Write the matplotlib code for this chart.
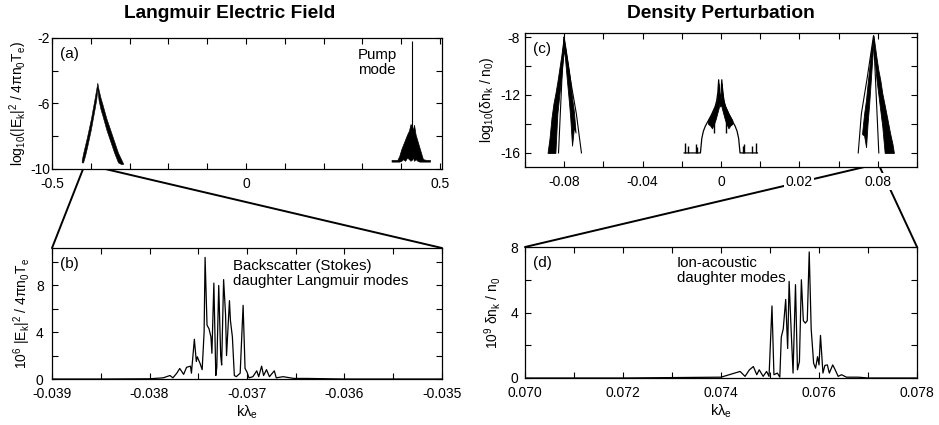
import numpy as np
import matplotlib
matplotlib.use("Agg")
import matplotlib.pyplot as plt
from matplotlib.patches import ConnectionPatch
from matplotlib.ticker import MultipleLocator, FixedLocator

plt.rcParams["font.family"] = ["Liberation Sans", "DejaVu Sans"]
plt.rcParams["mathtext.default"] = "regular"
plt.rcParams["axes.unicode_minus"] = False

# (a) Langmuir spectrum, log scale: dense band drawn as lower/upper envelope
a_left_k = [-0.4235, -0.4200, -0.4150, -0.4100, -0.4050, -0.4000, -0.3950, -0.3900, -0.3860, -0.3832,
            -0.3800, -0.3750, -0.3700, -0.3600, -0.3500, -0.3400, -0.3300, -0.3220, -0.3170]
a_left_hi = [-9.45, -9.05, -8.55, -8.05, -7.50, -6.95, -6.30, -5.65, -5.10, -4.73,
             -5.15, -5.65, -6.05, -6.90, -7.60, -8.30, -9.00, -9.40, -9.65]
a_left_lo = [-9.60, -9.60, -9.20, -8.70, -8.15, -7.60, -6.95, -6.30, -5.75, -5.10,
             -5.80, -6.35, -6.75, -7.60, -8.30, -9.00, -9.60, -9.70, -9.70]
a_right_k = [0.3750, 0.3900, 0.3950, 0.4000, 0.4050, 0.4100, 0.4150, 0.4200, 0.4240,
             0.4300, 0.4330, 0.4370, 0.4420, 0.4470, 0.4520, 0.4560, 0.4650, 0.4740]
a_right_hi = [-9.45, -9.45, -9.20, -8.80, -8.50, -8.20, -7.90, -7.65, -7.25,
              -7.60, -7.30, -7.90, -8.30, -8.70, -9.10, -9.40, -9.45, -9.45]
a_right_lo = [-9.55, -9.55, -9.55, -9.50, -9.40, -9.50, -9.30, -9.40, -9.50,
              -9.30, -9.50, -9.40, -9.50, -9.55, -9.55, -9.55, -9.55, -9.55]
pump_k = 0.4270
pump_top = -2.2
pump_base = -9.45
a_zoom = [-0.4200, -0.3630]

# (b) zoom on backscatter Langmuir modes (x1e6)
b_k = [-0.03900, -0.03850, -0.03800, -0.03786, -0.03779, -0.03776, -0.03772, -0.03769, -0.03765, -0.03762,
       -0.03758, -0.03757, -0.03754, -0.03752, -0.03751, -0.03748, -0.03746, -0.03744, -0.03743, -0.03741,
       -0.03739, -0.03737, -0.03736, -0.03734, -0.03732, -0.03731, -0.03729, -0.03727, -0.03726, -0.03724,
       -0.03722, -0.03721, -0.03718, -0.03717, -0.03715, -0.03713, -0.03711, -0.03707, -0.03704, -0.03702,
       -0.03700, -0.03698, -0.03694, -0.03690, -0.03688, -0.03685, -0.03683, -0.03680, -0.03677, -0.03672,
       -0.03670, -0.03663, -0.03652, -0.03639, -0.03600, -0.03500]
b_val = [0.0, 0.0, 0.02, 0.1, 0.3, 0.1, 0.5, 0.9, 0.4, 1.0,
         1.1, 0.5, 3.4, 1.5, 1.9, 1.3, 0.8, 4.0, 10.4, 4.6,
         4.3, 3.6, 2.2, 8.2, 0.3, 1.0, 8.0, 2.0, 1.2, 8.5,
         5.5, 2.0, 6.7, 5.0, 3.6, 0.3, 0.2, 0.5, 6.3, 0.9,
         0.6, 0.1, 0.2, 0.7, 0.2, 1.1, 0.3, 0.8, 0.2, 0.7,
         0.1, 0.2, 0.05, 0.05, 0.0, 0.0]

# (c) density spectrum, log scale
c_left_k = [-0.0885, -0.0875, -0.0865, -0.0855, -0.0845, -0.0835, -0.0825, -0.0815, -0.0808,
            -0.0802, -0.0795, -0.0786, -0.0775, -0.0769, -0.0760, -0.0750, -0.0742]
c_left_hi = [-16.0, -15.0, -13.6, -12.6, -11.9, -11.1, -10.2, -9.3, -8.6,
             -8.0, -8.6, -9.4, -10.4, -11.0, -12.2, -13.2, -14.6]
c_left_lo = [-16.0, -16.0, -16.0, -16.0, -16.0, -13.3, -12.0, -10.8, -9.8,
             -8.8, -9.6, -11.0, -12.6, -13.6, -15.5, -14.2, -14.6]
c_left_edge_k = [-0.0829, -0.0802, -0.0770, -0.0738, -0.0712]
c_left_edge_v = [-16.0, -8.0, -10.8, -13.3, -16.0]

c_right_k = [0.0720, 0.0730, 0.0740, 0.0748, 0.0756, 0.0764, 0.0771, 0.0778, 0.0785,
             0.0793, 0.0803, 0.0813, 0.0823, 0.0835, 0.0848, 0.0862, 0.0875, 0.0882]
c_right_hi = [-14.6, -13.3, -12.3, -11.2, -10.2, -9.1, -8.5, -7.9, -8.6,
              -9.4, -10.3, -11.0, -11.9, -12.7, -13.6, -14.6, -15.4, -16.0]
c_right_lo = [-14.7, -14.8, -15.6, -13.9, -12.6, -11.0, -9.6, -8.3, -9.8,
              -10.9, -12.0, -13.1, -14.2, -16.0, -16.0, -16.0, -16.0, -16.0]
c_right_edge_k = [0.0700, 0.0716, 0.0746, 0.0778, 0.0805]
c_right_edge_v = [-16.0, -13.3, -10.8, -7.9, -16.0]

bell_k = [-0.0188, -0.0105, -0.0098, -0.0090, -0.0080, -0.0070, -0.0060, -0.0050, -0.0040, -0.0030,
          -0.0022, -0.0016, -0.0012, -0.0008, -0.0004, 0.0000, 0.0004, 0.0008, 0.0014, 0.0022,
          0.0032, 0.0042, 0.0052, 0.0062, 0.0072, 0.0082, 0.0090, 0.0097, 0.0186]
bell_v = [-16.0, -16.0, -15.0, -14.5, -14.15, -13.9, -13.65, -13.4, -13.1, -12.8,
          -12.4, -11.8, -10.95, -11.9, -12.3, -11.9, -10.95, -11.8, -12.4, -12.8,
          -13.1, -13.4, -13.65, -13.9, -14.15, -14.5, -15.0, -16.0, -16.0]
core_k = [-0.0066, -0.0056, -0.0046, -0.0036, -0.0028, -0.0022, -0.0016, -0.0012, -0.0008, -0.0004,
          0.0000, 0.0004, 0.0008, 0.0014, 0.0020, 0.0028, 0.0038, 0.0048, 0.0058]
core_hi = [-13.75, -13.5, -13.25, -12.95, -12.7, -12.4, -11.8, -11.2, -12.0, -12.4,
           -12.0, -11.2, -11.8, -12.4, -12.7, -12.95, -13.25, -13.5, -13.75]
core_lo = [-14.0, -14.1, -14.3, -14.0, -13.7, -13.4, -13.1, -12.9, -12.6, -12.8,
           -12.6, -12.9, -13.1, -13.4, -13.7, -14.0, -14.3, -14.1, -14.0]
spike_k = [-0.0184, -0.0166, -0.0130, -0.0124, -0.0036, 0.0024, 0.0110, 0.0118, 0.0160, 0.0180]
spike_lo = [-16.0, -16.0, -16.0, -16.0, -14.6, -14.6, -16.0, -16.0, -16.0, -16.0]
spike_hi = [-15.3, -15.5, -15.4, -15.6, -13.3, -13.3, -15.5, -15.4, -15.5, -15.3]
c_zoom = [0.0732, 0.0810]
c_xticks = [-0.08, -0.04, 0.0, 0.04, 0.08]
c_xticklabels = ["-0.08", "-0.04", "0", "0.02", "0.08"]

# (d) zoom on ion-acoustic modes (x1e9)
d_k = [0.0700, 0.0720, 0.0740, 0.07439, 0.07449, 0.07458, 0.07466, 0.07473, 0.07478, 0.07486,
       0.07493, 0.07498, 0.07504, 0.07508, 0.07515, 0.07520, 0.07523, 0.07527, 0.07532, 0.07536,
       0.07539, 0.07543, 0.07547, 0.07552, 0.07556, 0.07560, 0.07564, 0.07568, 0.07572, 0.07576,
       0.07580, 0.07584, 0.07589, 0.07593, 0.07597, 0.07600, 0.07603, 0.07608, 0.07612, 0.07617,
       0.07621, 0.07628, 0.07633, 0.07639, 0.07646, 0.07656, 0.07680, 0.07700, 0.07800]
d_val = [0.0, 0.0, 0.05, 0.4, 0.1, 0.5, 0.7, 0.2, 0.5, 0.1,
         0.4, 0.1, 4.4, 0.2, 0.3, 0.05, 2.5, 3.0, 4.8, 1.8,
         5.9, 3.0, 0.3, 5.7, 0.5, 1.0, 6.0, 3.5, 3.35, 3.5,
         7.7, 3.0, 0.9, 0.6, 1.3, 0.8, 2.6, 0.3, 0.77, 0.8,
         0.3, 0.8, 0.5, 0.1, 0.2, 0.05, 0.05, 0.0, 0.0]

b_xticks = [-0.039, -0.038, -0.037, -0.036, -0.035]
b_xticklabels = ["-0.039", "-0.038", "-0.037", "-0.036", "-0.035"]
d_xticks = [0.070, 0.072, 0.074, 0.076, 0.078]
d_xticklabels = ["0.070", "0.072", "0.074", "0.076", "0.078"]


def style_axis(ax, ypad):
    ax.tick_params(which="both", direction="in", top=True, right=True,
                   length=4, width=0.8, labelsize=10)
    ax.tick_params(axis="x", which="both", pad=5.5)
    ax.tick_params(axis="y", which="both", pad=ypad)
    for s in ax.spines.values():
        s.set_linewidth(0.9)


fig = plt.figure(figsize=(9.39, 4.25), dpi=100)
ax_a = fig.add_axes([0.0554, 0.6024, 0.4153, 0.3082])
ax_b = fig.add_axes([0.0554, 0.1082, 0.4153, 0.3082])
ax_c = fig.add_axes([0.5591, 0.6071, 0.4175, 0.3153])
ax_d = fig.add_axes([0.5591, 0.1106, 0.4175, 0.3082])
style_axis(ax_a, 1.5)
style_axis(ax_b, 6)
style_axis(ax_c, 3.5)
style_axis(ax_d, 5)

# panel (a)
ax_a.fill_between(a_left_k, a_left_lo, a_left_hi, color="black", lw=0.4)
ax_a.fill_between(a_right_k, a_right_lo, a_right_hi, color="black", lw=0.5)
ax_a.vlines(pump_k, pump_base, pump_top, color="black", lw=0.8)
ax_a.set_xlim(-0.5, 0.505)
ax_a.set_ylim(-10, -2)
ax_a.xaxis.set_major_locator(FixedLocator([-0.5, 0, 0.5]))
ax_a.set_xticklabels(["-0.5", "0", "0.5"])
ax_a.xaxis.set_minor_locator(MultipleLocator(0.1))
ax_a.yaxis.set_major_locator(FixedLocator([-10, -6, -2]))
ax_a.yaxis.set_minor_locator(MultipleLocator(2))
ax_a.set_ylabel(r"log$_{10}$(|E$_k$|$^2$ / 4πn$_0$T$_e$)", fontsize=10, labelpad=0.5)
ax_a.text(0.02, 0.93, "(a)", transform=ax_a.transAxes, fontsize=11, va="top")
ax_a.text(0.289, -2.6, "Pump\nmode", fontsize=10.8, va="top", ha="left", linespacing=1.1)

# panel (b)
ax_b.plot(b_k, b_val, color="black", lw=0.9)
ax_b.set_xlim(-0.039, -0.035)
ax_b.set_ylim(0, 11.2)
ax_b.xaxis.set_major_locator(FixedLocator(b_xticks))
ax_b.set_xticklabels(b_xticklabels)
ax_b.xaxis.set_minor_locator(MultipleLocator(0.0005))
ax_b.yaxis.set_major_locator(FixedLocator([0, 4, 8]))
ax_b.yaxis.set_minor_locator(MultipleLocator(2))
ax_b.set_ylabel(r"10$^6$ |E$_k$|$^2$ / 4πn$_0$T$_e$", fontsize=10, labelpad=2)
ax_b.set_xlabel(r"kλ$_e$", fontsize=10.5, labelpad=2)
ax_b.text(0.02, 0.93, "(b)", transform=ax_b.transAxes, fontsize=11, va="top")
ax_b.text(-0.03714, 10.3, "Backscatter (Stokes)\ndaughter Langmuir modes",
          fontsize=10.8, va="top", ha="left", linespacing=1.1)

# panel (c)
ax_c.fill_between(c_left_k, c_left_lo, c_left_hi, color="black", lw=0.6)
ax_c.plot(c_left_edge_k, c_left_edge_v, color="black", lw=0.8)
ax_c.fill_between(c_right_k, c_right_lo, c_right_hi, color="black", lw=0.6)
ax_c.plot(c_right_edge_k, c_right_edge_v, color="black", lw=0.8)
ax_c.plot(bell_k, bell_v, color="black", lw=0.9)
ax_c.fill_between(core_k, core_lo, core_hi, color="black", lw=0.6)
ax_c.vlines(spike_k, spike_lo, spike_hi, color="black", lw=1.0)
ax_c.set_xlim(-0.1, 0.1)
ax_c.set_ylim(-16.97, -7.72)
ax_c.xaxis.set_major_locator(FixedLocator(c_xticks))
ax_c.set_xticklabels(c_xticklabels)
ax_c.xaxis.set_minor_locator(MultipleLocator(0.02))
ax_c.yaxis.set_major_locator(FixedLocator([-16, -12, -8]))
ax_c.yaxis.set_minor_locator(MultipleLocator(2))
for t in ax_c.get_xticklabels():
    t.set_bbox(dict(facecolor="white", edgecolor="none", pad=1))
ax_c.set_ylabel(r"log$_{10}$(δn$_k$ / n$_0$)", fontsize=10, labelpad=3)
ax_c.text(0.02, 0.93, "(c)", transform=ax_c.transAxes, fontsize=11, va="top")

# panel (d)
ax_d.plot(d_k, d_val, color="black", lw=0.9)
ax_d.set_xlim(0.070, 0.078)
ax_d.set_ylim(0, 8)
ax_d.xaxis.set_major_locator(FixedLocator(d_xticks))
ax_d.set_xticklabels(d_xticklabels)
ax_d.xaxis.set_minor_locator(MultipleLocator(0.001))
ax_d.yaxis.set_major_locator(FixedLocator([0, 4, 8]))
ax_d.yaxis.set_minor_locator(MultipleLocator(2))
ax_d.set_ylabel(r"10$^9$ δn$_k$ / n$_0$", fontsize=10, labelpad=5)
ax_d.set_xlabel(r"kλ$_e$", fontsize=10.5, labelpad=2)
ax_d.text(0.02, 0.93, "(d)", transform=ax_d.transAxes, fontsize=11, va="top")
ax_d.text(0.0731, 7.45, "Ion-acoustic\ndaughter modes", fontsize=10.8, va="top", ha="left",
          linespacing=1.1)

# zoom connectors
for xa, corner in zip(a_zoom, [(0, 1), (1, 1)]):
    con = ConnectionPatch(xyA=(xa, -10), coordsA=ax_a.transData, xyB=corner,
                          coordsB=ax_b.transAxes, color="black", lw=1.4, zorder=-1)
    fig.add_artist(con)
for xc, corner in zip(c_zoom, [(0, 1), (1, 1)]):
    con = ConnectionPatch(xyA=(xc, -16.97), coordsA=ax_c.transData, xyB=corner,
                          coordsB=ax_d.transAxes, color="black", lw=1.4, zorder=-1)
    fig.add_artist(con)

fig.text(230 / 939, 1 - 14 / 425, "Langmuir Electric Field", ha="center", va="center",
         fontsize=13.8, fontweight="bold")
fig.text(721 / 939, 1 - 14 / 425, "Density Perturbation", ha="center", va="center",
         fontsize=13.8, fontweight="bold")

fig.savefig("out.png", dpi=100)
